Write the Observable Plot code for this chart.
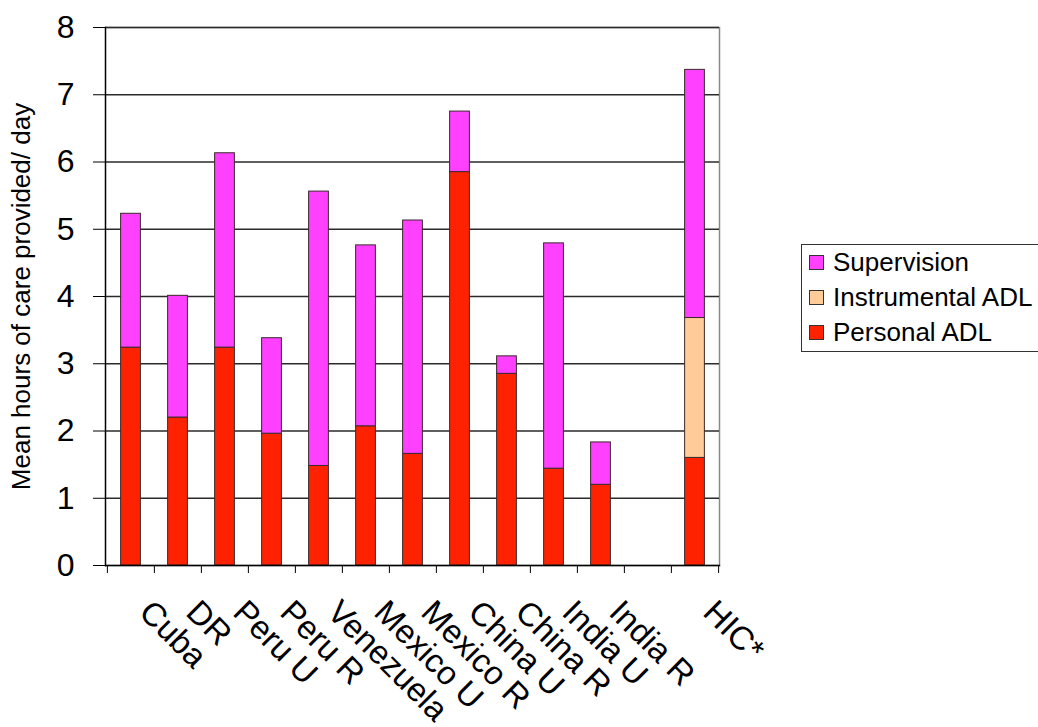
<!DOCTYPE html>
<html><head><meta charset="utf-8">
<script src="https://cdn.jsdelivr.net/npm/d3@7"></script>
<script src="https://cdn.jsdelivr.net/npm/@observablehq/plot@0.6"></script>
<style>
html,body{margin:0;padding:0;background:#fff;overflow:hidden;}
#wrap{position:relative;width:1038px;height:727px;font-family:"Liberation Sans",Arial,sans-serif;}
#legend{position:absolute;left:801px;top:244px;width:260px;height:108px;border:1px solid #333;box-sizing:border-box;background:#fff;padding-left:7px;}
.item{height:35px;display:flex;align-items:center;font-size:26px;color:#000;white-space:nowrap;}
.sw{width:13px;height:13px;border:1px solid #333;margin-right:9px;flex:none;}
</style></head><body><div id="wrap"></div>
<script>
const categories = ["Cuba","DR","Peru U","Peru R","Venezuela","Mexico U","Mexico R","China U","China R","India U","India R"," ","HIC*"];
const personalADL     = [3.24, 2.20, 3.24, 1.96, 1.48, 2.07, 1.66, 5.85, 2.85, 1.44, 1.20, null, 1.60];
const instrumentalADL = [0, 0, 0, 0, 0, 0, 0, 0, 0, 0, 0, null, 2.08];
const supervision     = [1.99, 1.81, 2.89, 1.42, 4.08, 2.69, 3.47, 0.90, 0.26, 3.35, 0.63, null, 3.69];
const yTicks = [0, 1, 2, 3, 4, 5, 6, 7, 8];
const seriesNames = ["Personal ADL", "Instrumental ADL", "Supervision"];
const seriesColors = ["#FF2200", "#FFCC99", "#FF40FF"];
const yTitle = "Mean hours of care provided/ day";

const seriesValues = [personalADL, instrumentalADL, supervision];
const rows = [];
categories.forEach((c, i) => {
  seriesValues.forEach((arr, k) => {
    if (arr[i] != null && arr[i] > 0) rows.push({category: c, series: seriesNames[k], value: arr[i]});
  });
});

const W = 1038, H = 727, mL = 105, mR = 319, mT = 27, mB = 162;
const bw = (W - mL - mR) / categories.length;
const barW = 20;
const inset = (bw - barW) / 2;

const chart = Plot.plot({
  width: W, height: H,
  marginLeft: mL, marginRight: mR, marginTop: mT, marginBottom: mB,
  style: {fontFamily: "'Liberation Sans', Arial, sans-serif", background: "#fff", color: "#000", overflow: "visible"},
  x: {domain: categories, padding: 0, label: null, axis: null},
  y: {domain: [0, 8], label: null, axis: null},
  color: {domain: seriesNames, range: seriesColors},
  marks: [
    Plot.frame({stroke: "#888", strokeWidth: 1.5}),
    Plot.ruleY(yTicks.filter(t => t > 0), {stroke: "#2a2a2a", strokeWidth: 1.3}),
    Plot.barY(rows, {x: "category", y: "value", fill: "series", order: seriesNames, stroke: "#3a2a2a", strokeWidth: 1, insetLeft: inset, insetRight: inset}),
    Plot.frame({anchor: "left", stroke: "#000", strokeWidth: 1.3}),
    Plot.frame({anchor: "bottom", stroke: "#000", strokeWidth: 1.3}),
    Plot.axisY(yTicks, {tickSize: 12, tickPadding: 19, fontSize: 32, tickFormat: d3.format("d"), label: null, stroke: "#000"}),
    Plot.axisY({ticks: [], label: yTitle, labelAnchor: "center", labelArrow: "none", labelOffset: 94, fontSize: 26}),
    Plot.axisX(categories, {tickSize: 8, tickFormat: () => "", dx: -bw / 2, label: null, stroke: "#000"}),
    Plot.axisX([categories[categories.length - 1]], {tickSize: 8, tickFormat: () => "", dx: bw / 2, label: null, stroke: "#000"}),
    Plot.axisX(categories, {tickSize: 0, tickPadding: 41, tickRotate: 45, fontSize: 33, dx: 14, label: null})
  ]
});

const wrap = document.getElementById("wrap");
wrap.appendChild(chart);

const legend = document.createElement("div");
legend.id = "legend";
[2, 1, 0].forEach(k => {
  const item = document.createElement("div");
  item.className = "item";
  const sw = document.createElement("span");
  sw.className = "sw";
  sw.style.background = seriesColors[k];
  const t = document.createElement("span");
  t.textContent = seriesNames[k];
  item.appendChild(sw);
  item.appendChild(t);
  legend.appendChild(item);
});
wrap.appendChild(legend);
</script>
</body></html>
